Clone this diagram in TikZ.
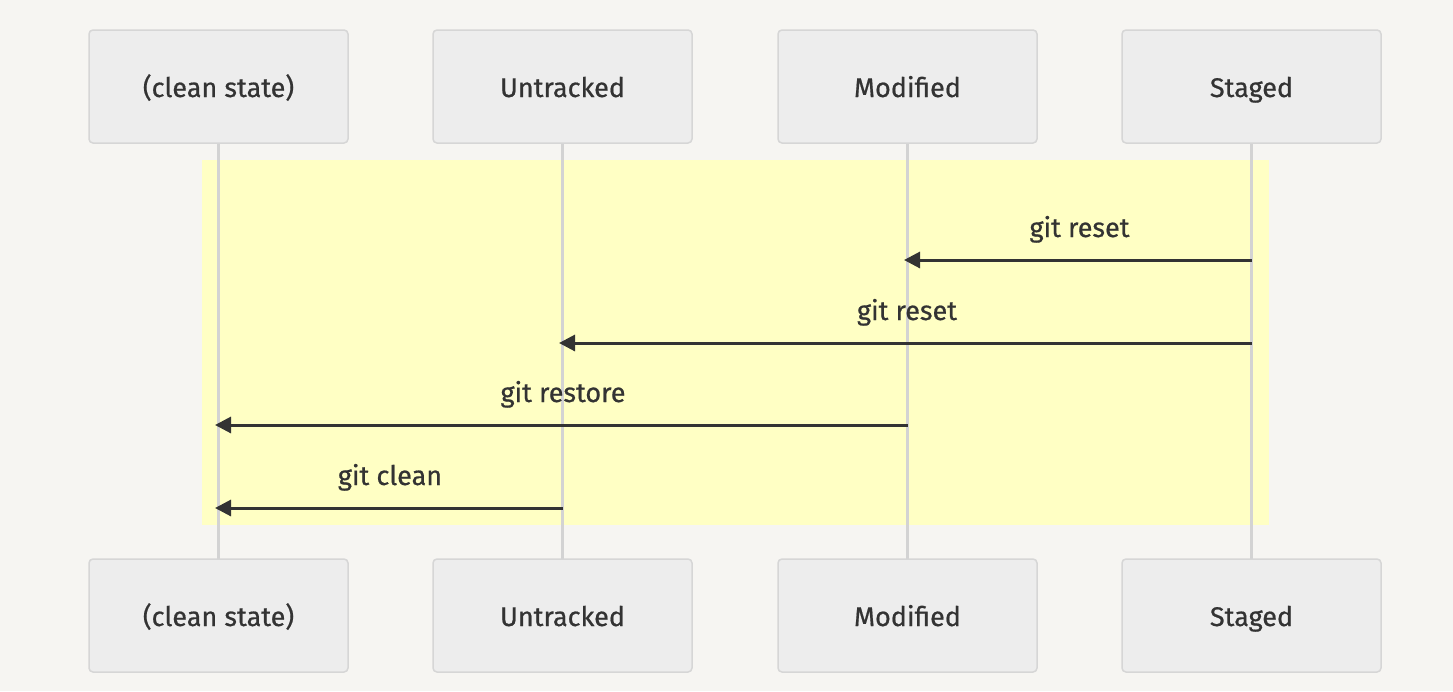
\documentclass[tikz,border=0pt]{standalone}
\usepackage{fontspec}
\setmainfont{Fira Sans}
\newfontfamily\lblfont{Fira Sans}[FakeBold=0.6]
\usetikzlibrary{arrows.meta}
\definecolor{bgc}{HTML}{F6F5F2}
\definecolor{boxfill}{HTML}{EDEDED}
\definecolor{boxline}{HTML}{D6D6D6}
\definecolor{lifec}{HTML}{D3D3D3}
\definecolor{hl}{HTML}{FFFFC4}
\definecolor{txt}{HTML}{333333}
\tikzset{
  actor/.style={draw=boxline, line width=1.5pt, fill=boxfill, rounded corners=4pt,
    minimum width=259pt, minimum height=113pt, inner sep=0pt},
  life/.style={draw=lifec, line width=3pt},
  msg/.style={draw=txt, line width=3pt, -{Triangle[length=16pt,width=16pt]}},
  lbl/.style={text=txt, font=\lblfont\fontsize{27}{32}\selectfont, inner sep=0pt, anchor=base}
}
\begin{document}
\begin{tikzpicture}[x=1pt,y=-1pt]
\fill[bgc] (0,0) rectangle (1453,691);
\useasboundingbox (0,0) rectangle (1453,691);
\fill[hl] (202,160) rectangle (1269,525);
% lifelines
\foreach \x/\n in {218.5/a,562.5/b,907.5/c,1251.5/d}{
  \coordinate (t\n) at (\x,143);
  \coordinate (b\n) at (\x,559);
}
\draw[life] (ta) -- (ba);
\draw[life] (tb) -- (bb);
\draw[life] (tc) -- (bc);
\draw[life] (td) -- (bd);
% actors
\node[actor] (a1) at (218.5,86.5) {};
\node[actor] (b1) at (562.5,86.5) {};
\node[actor] (c1) at (907.5,86.5) {};
\node[actor] (d1) at (1251.5,86.5) {};
\node[actor] (a2) at (218.5,615.5) {};
\node[actor] (b2) at (562.5,615.5) {};
\node[actor] (c2) at (907.5,615.5) {};
\node[actor] (d2) at (1251.5,615.5) {};
\node[lbl] (a1t) at (218.5,97) {(clean state)};
\node[lbl] (b1t) at (562.5,97) {Untracked};
\node[lbl] (c1t) at (907.5,97) {Modified};
\node[lbl] (d1t) at (1251.5,97) {Staged};
\node[lbl] (a2t) at (218.5,626) {(clean state)};
\node[lbl] (b2t) at (562.5,626) {Untracked};
\node[lbl] (c2t) at (907.5,626) {Modified};
\node[lbl] (d2t) at (1251.5,626) {Staged};
% message endpoints
\coordinate (m1s) at (1251.5,260); \coordinate (m1e) at (904,260);
\coordinate (m2s) at (1251.5,343); \coordinate (m2e) at (559,343);
\coordinate (m3s) at (907.5,425);  \coordinate (m3e) at (215,425);
\coordinate (m4s) at (562.5,508);  \coordinate (m4e) at (215,508);
\draw[msg] (m1s) -- (m1e);
\draw[msg] (m2s) -- (m2e);
\draw[msg] (m3s) -- (m3e);
\draw[msg] (m4s) -- (m4e);
\node[lbl] (l1) at (1079.5,237) {git reset};
\node[lbl] (l2) at (907,320) {git reset};
\node[lbl] (l3) at (563,402) {git restore};
\node[lbl] (l4) at (390,485) {git clean};
\end{tikzpicture}
\end{document}
